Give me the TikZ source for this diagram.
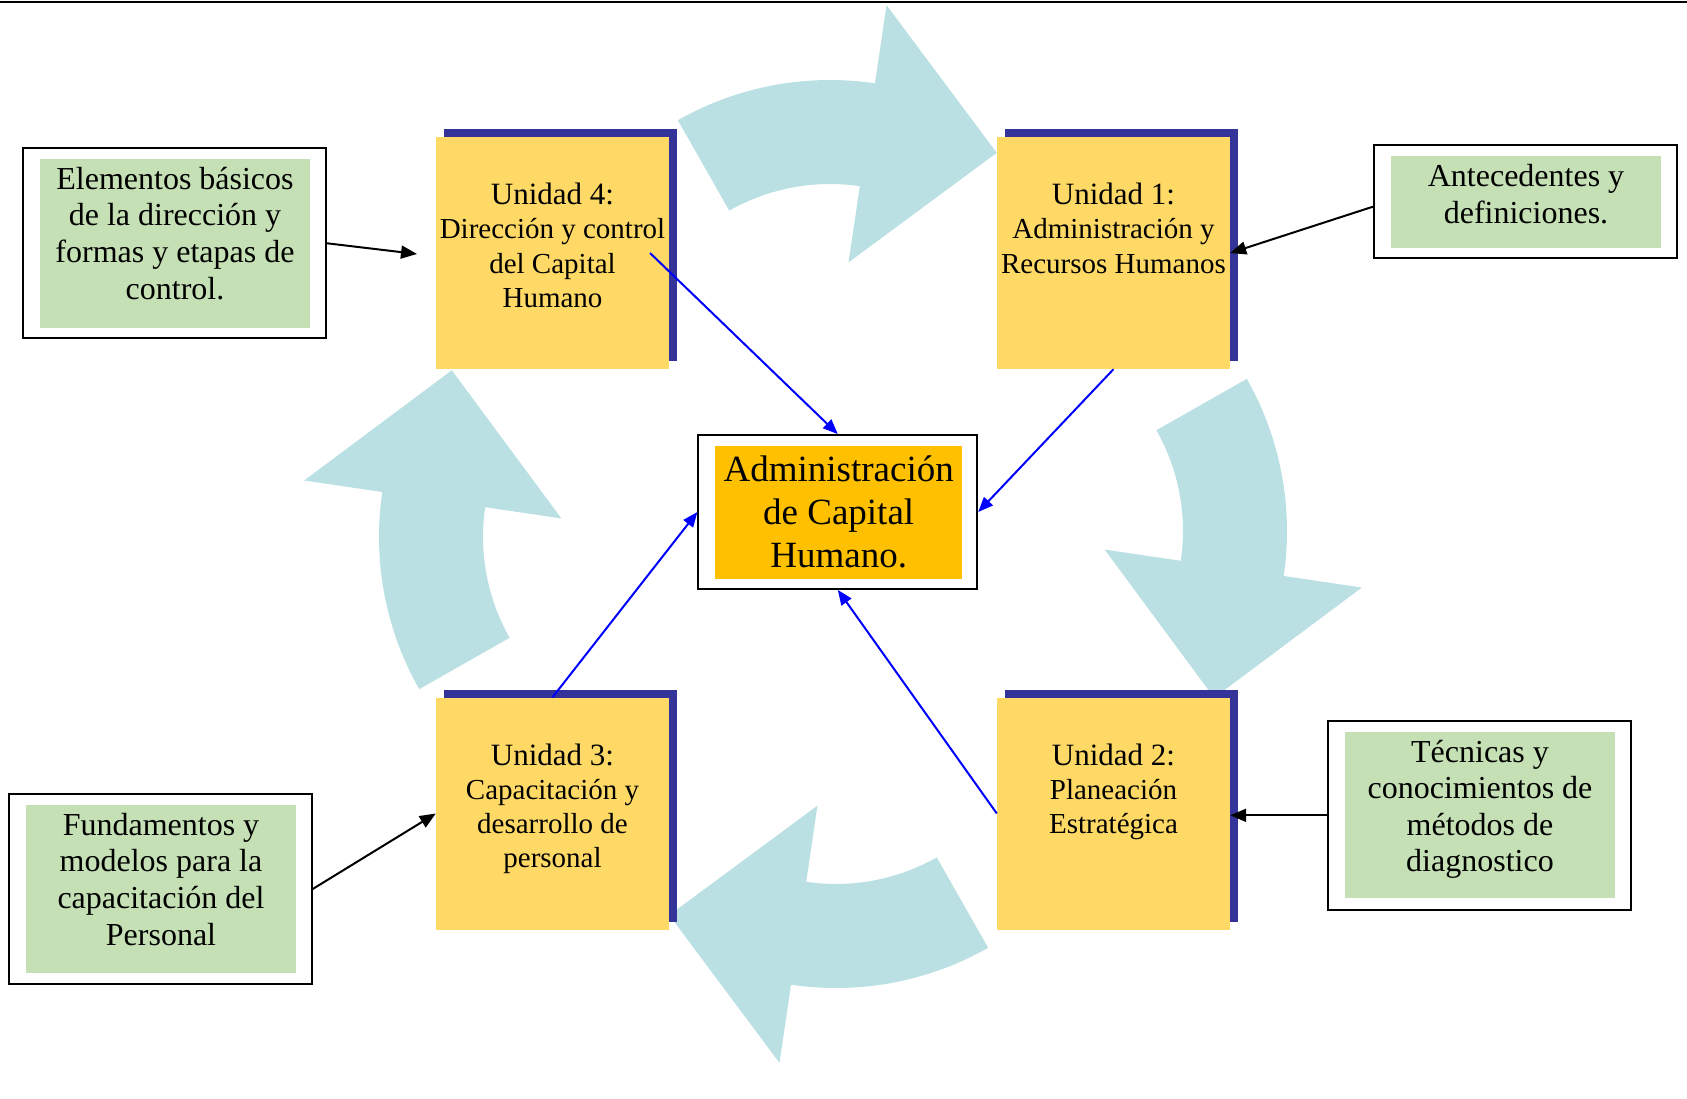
\documentclass[tikz,border=0pt]{standalone}
\usepackage{fontspec}
\setmainfont{Liberation Serif}
\usetikzlibrary{arrows.meta,calc,shadows}
\definecolor{unitY}{HTML}{FFD966}
\definecolor{shadowB}{HTML}{333399}
\definecolor{cycTeal}{HTML}{BBE0E3}
\definecolor{coreO}{HTML}{FFC000}
\definecolor{noteG}{HTML}{C5E0B4}
\begin{document}
\begin{tikzpicture}[x=1pt,y=-1pt,
  unitbox/.style={rectangle, fill=unitY, draw=none, minimum width=233pt, minimum height=232pt, inner sep=0pt,
    drop shadow={shadow xshift=8pt, shadow yshift=8pt, fill=shadowB, opacity=1}},
  unittext/.style={anchor=north, inner sep=0pt, align=center, font=\fontsize{29}{34.3}\selectfont},
  notebox/.style={rectangle, draw=black, line width=1.8pt, minimum width=303pt, inner sep=0pt},
  notefill/.style={rectangle, fill=noteG, minimum width=270pt, inner sep=0pt},
  notetext/.style={anchor=north, inner sep=0pt, align=center, font=\fontsize{32}{36.6}\selectfont},
  bluelink/.style={draw=blue, line width=2pt, -{Triangle[length=15pt,width=12pt]}},
  blacklink/.style={draw=black, line width=2pt, -{Triangle[length=16pt,width=13pt]}},
  cycarrow/.pic={
    \fill[cycTeal] (119.6:308pt) arc[start angle=119.6, end angle=81.6, radius=308pt]
      -- (81.6:387pt) -- (54.66:288.3pt) -- (81.6:127pt) -- (81.6:204pt)
      arc[start angle=81.6, end angle=119.6, radius=204pt] -- cycle;
  }
]
\useasboundingbox (0,0) rectangle (1687,1098);
\draw[line width=1.8pt] (0,1.8) -- (1687,1.8);

% cycle arrows
\pic[rotate=0] at (830,388) {cycarrow};
\pic[rotate=-90] at (979,531) {cycarrow};
\pic[rotate=180] at (836,680) {cycarrow};
\pic[rotate=90] at (687,537) {cycarrow};

% unit boxes
\node[unitbox] (u4) at (552.5,253) {};
\node[unitbox] (u1) at (1113.5,253) {};
\node[unitbox] (u3) at (552.5,813.5) {};
\node[unitbox] (u2) at (1113.5,813.5) {};

\node[unittext] (u4t) at ($(u4.north)+(0,43.5)$) {{\fontsize{31}{34.3}\selectfont\strut Unidad 4:}\\Dirección y control\\del Capital\\Humano};
\node[unittext] (u1t) at ($(u1.north)+(0,43.5)$) {{\fontsize{31}{34.3}\selectfont\strut Unidad 1:}\\Administración y\\Recursos Humanos};
\node[unittext] (u3t) at ($(u3.north)+(0,43.5)$) {{\fontsize{31}{34.3}\selectfont\strut Unidad 3:}\\Capacitación y\\desarrollo de\\personal};
\node[unittext] (u2t) at ($(u2.north)+(0,43.5)$) {{\fontsize{31}{34.3}\selectfont\strut Unidad 2:}\\Planeación\\Estratégica};

% center box
\node[draw=black, line width=1.8pt, minimum width=279pt, minimum height=154pt, inner sep=0pt] (cb) at (837.8,512) {};
\node[fill=coreO, minimum width=247pt, minimum height=133pt, inner sep=0pt] (cbi) at (838.7,512.3) {};
\node[anchor=north, inner sep=0pt, align=center, font=\fontsize{37}{43}\selectfont] (cbt) at ($(cbi.north)+(0,6)$) {\strut Administración\\de Capital\\Humano.};

% note boxes
\node[notebox, minimum height=190pt] (e1) at (174.7,243.3) {};
\node[notefill, minimum height=168.4pt] (e1g) at (175,243.5) {};
\node[notetext] (e1t) at ($(e1g.north)+(0,4.4)$) {\strut Elementos básicos\\de la dirección y\\formas y etapas de\\control.};

\node[notebox, minimum height=113.3pt] (a1) at (1525.3,201.7) {};
\node[notefill, minimum height=92.3pt] (a1g) at (1526,202.2) {};
\node[notetext] (a1t) at ($(a1g.north)+(0,5)$) {\strut Antecedentes y\\definiciones.};

\node[notebox, minimum height=190pt] (f1) at (160.3,889) {};
\node[notefill, minimum height=167.7pt] (f1g) at (161,888.8) {};
\node[notetext] (f1t) at ($(f1g.north)+(0,4.8)$) {\strut Fundamentos y\\modelos para la\\capacitación del\\Personal};

\node[notebox, minimum height=189.3pt] (t1) at (1479.2,815.3) {};
\node[notefill, minimum height=166.6pt] (t1g) at (1480,815) {};
\node[notetext] (t1t) at ($(t1g.north)+(0,4.8)$) {\strut Técnicas y\\conocimientos de\\métodos de\\diagnostico};

% connectors
\coordinate (u4s) at (650,253);
\coordinate (e1end) at (417,254);
\draw[bluelink] (u4s) -- (cb.north);
\draw[bluelink] (u1.south) -- (cb.east);
\draw[bluelink] (u2.west) -- (cb.south);
\draw[bluelink] (u3.north) -- (cb.west);
\draw[blacklink] (e1.east) -- (e1end);
\draw[blacklink] ([yshift=-5pt]a1.west) -- (u1.east);
\draw[blacklink] (t1.west) -- (t1.west -| u2.east);
\draw[blacklink] (f1.east) -- (u3.west);
\end{tikzpicture}
\end{document}
